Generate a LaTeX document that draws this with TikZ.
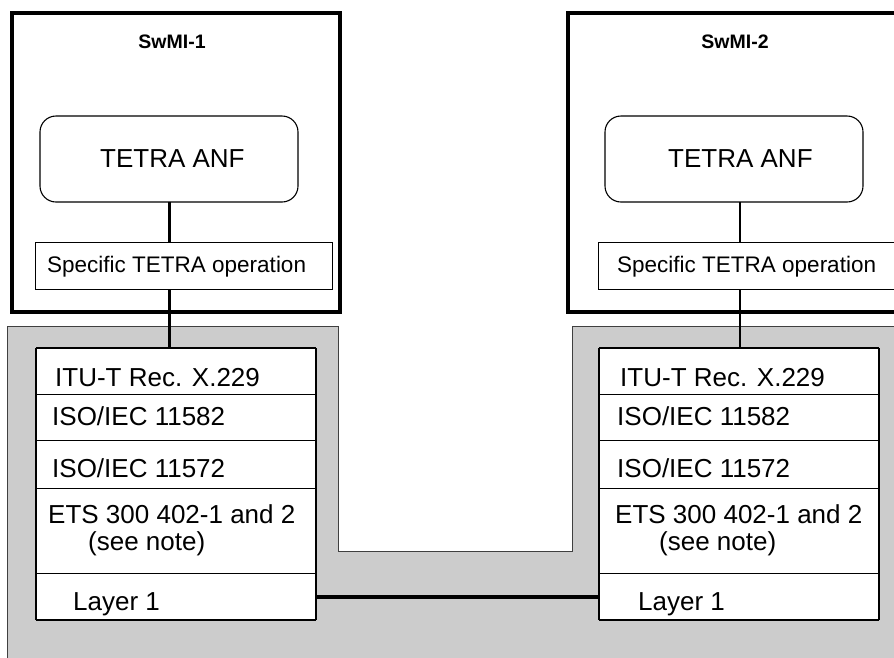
\documentclass[tikz,border=0pt]{standalone}
\usepackage{fontspec}
\setmainfont{Liberation Sans}
\begin{document}
\begin{tikzpicture}[x=1pt,y=-1pt,
  swmi/.style={draw=black,line width=3.5pt},
  anf/.style={draw=black,line width=1.1pt,rounded corners=16pt},
  specbox/.style={draw=black,line width=1pt,fill=white},
  rowbox/.style={draw=black,line width=1pt,fill=white},
  lbl/.style={anchor=base west,inner sep=0pt,font=\fontsize{26}{30}\selectfont},
  speclbl/.style={anchor=base west,inner sep=0pt,font=\fontsize{22.5}{26}\selectfont},
  anflbl/.style={anchor=base west,inner sep=0pt,font=\fontsize{26}{30}\selectfont},
  title/.style={anchor=base,inner sep=0pt,font=\bfseries\fontsize{19.5}{23}\selectfont},
  thickconn/.style={line width=3pt},
  thinconn/.style={line width=1.5pt},
]
\useasboundingbox (0,0) rectangle (894,657);
\clip (0,0) rectangle (894,657);
\fill[white] (0,0) rectangle (894,657);

% gray platform
\filldraw[fill=black!20,draw=black!75,line width=1pt]
  (7,326) -- (338,326) -- (338,551) -- (572,551) -- (572,326) -- (905,326)
  -- (905,670) -- (7,670) -- cycle;

% SwMI boxes
\draw[swmi] (12,13) rectangle (340,312);
\draw[swmi] (568,13) rectangle (897,312);
\node[title] (t1) at (172,48) {SwMI-1};
\node[title] (t2) at (735,48) {SwMI-2};

% TETRA ANF
\draw[anf] (40,116) rectangle (298,202);
\draw[anf] (605,116) rectangle (863,202);
\coordinate (anf1) at (169,202);
\coordinate (anf2) at (740,202);
\node[anflbl] (a1) at (100,167) {TETRA ANF};
\node[anflbl] (a2) at (668,167) {TETRA ANF};

% Specific TETRA operation
\node[specbox,minimum width=297pt,minimum height=47pt,anchor=north west,inner sep=0pt] (s1) at (35,242) {};
\node[specbox,minimum width=297pt,minimum height=47pt,anchor=north west,inner sep=0pt] (s2) at (598,242) {};
\node[speclbl] at (47,272) {Specific TETRA operation};
\node[speclbl] at (617,272) {Specific TETRA operation};

% stacks
\foreach \side/\x in {L/36,R/599}{
  \node[rowbox,anchor=north west,minimum width=279pt,minimum height=46pt,inner sep=0pt] (\side1) at (\x,348) {};
  \node[rowbox,anchor=north west,minimum width=279pt,minimum height=46pt,inner sep=0pt] (\side2) at (\x,394) {};
  \node[rowbox,anchor=north west,minimum width=279pt,minimum height=48pt,inner sep=0pt] (\side3) at (\x,440) {};
  \node[rowbox,anchor=north west,minimum width=279pt,minimum height=85pt,inner sep=0pt] (\side4) at (\x,488) {};
  \node[rowbox,anchor=north west,minimum width=279pt,minimum height=46pt,inner sep=0pt] (\side5) at (\x,573) {};
  \draw[line width=1.5pt] (\side1.north west) -- (\side1.north east);
  \draw[line width=2.5pt] (\side5.south west) -- (\side5.south east);
  \draw[line width=1.8pt] (\side1.north east) -- (\side5.south east);
  \draw[line width=1.5pt] (\side1.north west) -- (\side5.south west);
}

\node[lbl] at (55,386) {ITU-T Rec. X.229};
\node[lbl] at (52,425) {ISO/IEC 11582};
\node[lbl] at (52,477) {ISO/IEC 11572};
\node[lbl] at (48,523) {ETS 300 402-1 and 2};
\node[lbl] at (88,550) {(see note)};
\node[lbl] at (73,610) {Layer 1};

\node[lbl] at (620,386) {ITU-T Rec. X.229};
\node[lbl] at (617,425) {ISO/IEC 11582};
\node[lbl] at (617,477) {ISO/IEC 11572};
\node[lbl] at (615,523) {ETS 300 402-1 and 2};
\node[lbl] at (659,550) {(see note)};
\node[lbl] at (638,610) {Layer 1};

% connectors
\draw[thickconn] (anf1) -- (anf1 |- s1.north);
\draw[thickconn] (anf1 |- s1.south) -- (anf1 |- L1.north);
\draw[thinconn] (anf2) -- (anf2 |- s2.north);
\draw[thinconn] (anf2 |- s2.south) -- (anf2 |- R1.north);
\coordinate (l1) at (L5.east |- 0,597);
\coordinate (r1) at (R5.west |- 0,597);
\draw[line width=4pt] (l1) -- (r1);
\end{tikzpicture}
\end{document}
